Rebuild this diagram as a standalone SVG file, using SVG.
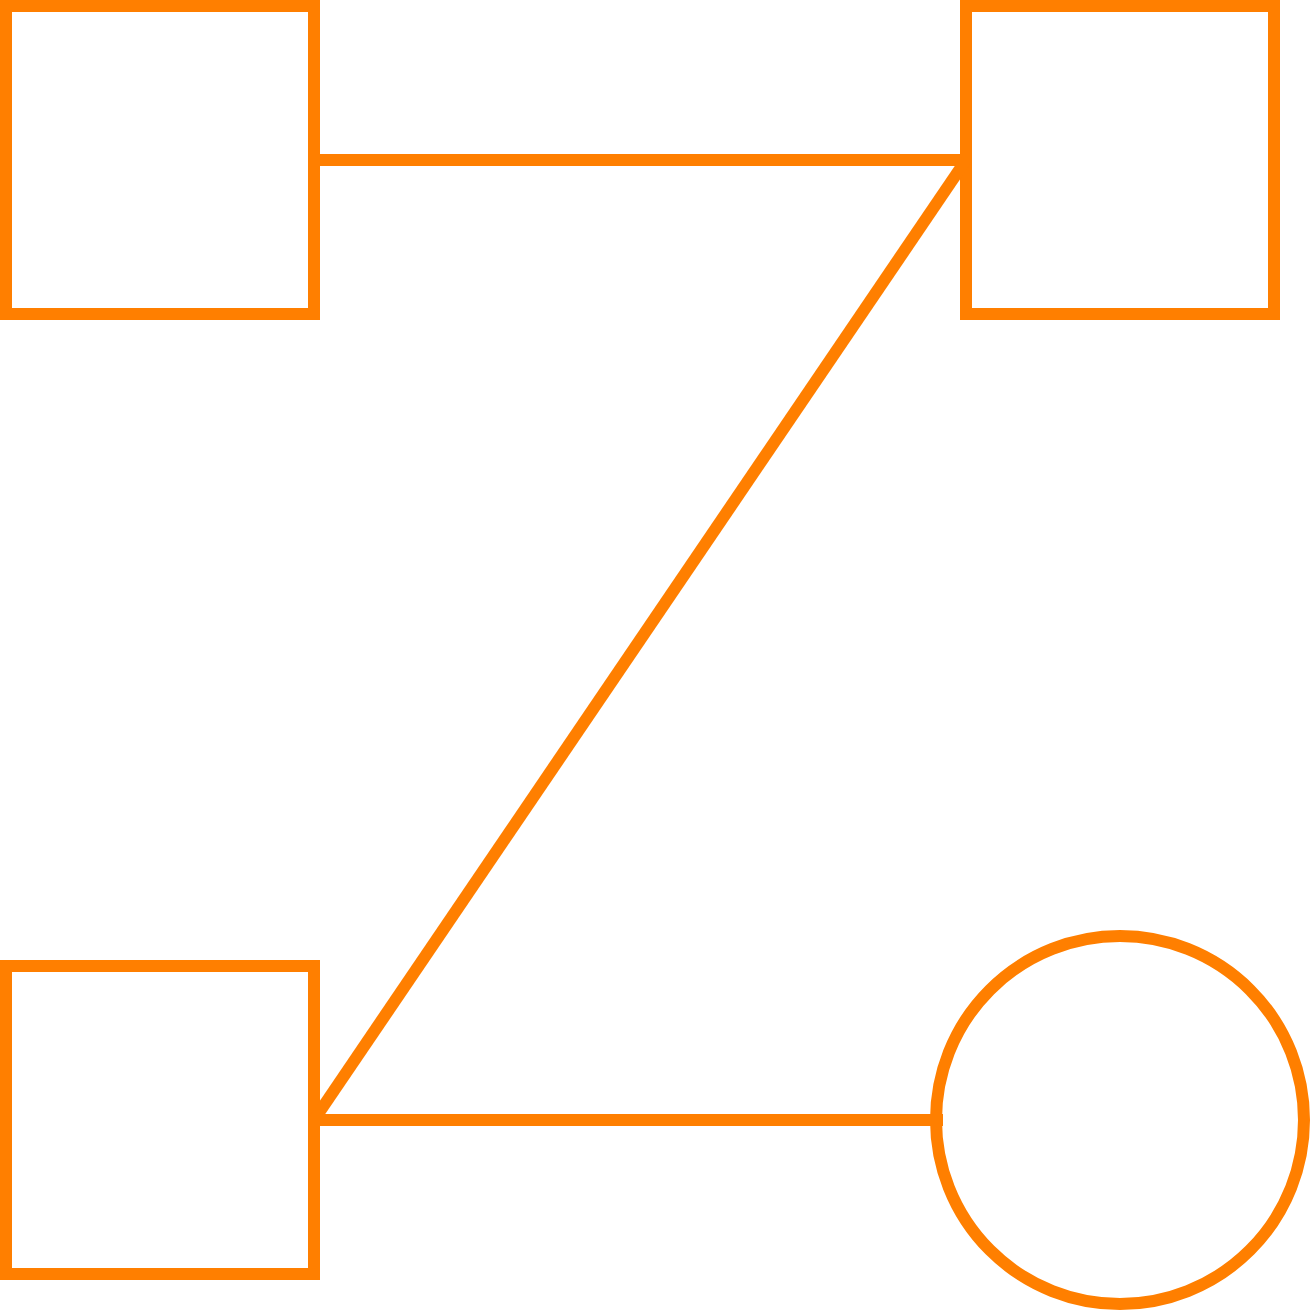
<svg xmlns="http://www.w3.org/2000/svg" width="1312" height="1312" viewBox="0 0 1312 1312">
<style>
.n{fill:#ffffff;stroke:#ff7f00;stroke-width:12}
.e{stroke:#ff7f00;stroke-width:12;fill:none}
</style>
<rect width="1312" height="1312" fill="#ffffff"/>
<g id="node-top-left"><rect class="n" x="6" y="6" width="308" height="308"/></g>
<g id="node-top-right"><rect class="n" x="966" y="6" width="308" height="308"/></g>
<g id="node-bottom-left"><rect class="n" x="6" y="966" width="308" height="308"/></g>
<g id="node-bottom-right"><circle class="n" cx="1120" cy="1120" r="184"/></g>
<g id="connectors">
<line class="e" x1="314" y1="160" x2="966" y2="160"/>
<line class="e" x1="966" y1="160" x2="314" y2="1120"/>
<line class="e" x1="314" y1="1120" x2="943" y2="1120"/>
</g>
</svg>
